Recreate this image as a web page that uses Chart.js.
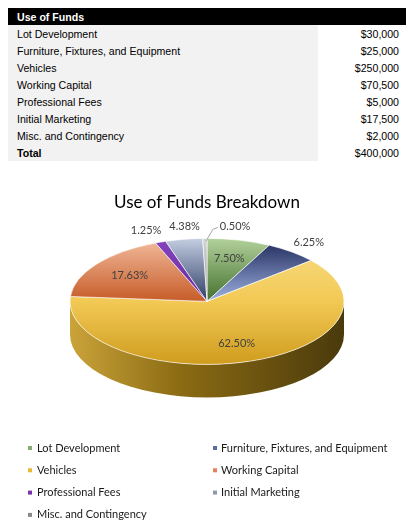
<!DOCTYPE html>
<html>
<head>
<meta charset="utf-8">
<script src="https://cdn.jsdelivr.net/npm/chart.js@4.4.0/dist/chart.umd.min.js"></script>
<style>
  body { margin: 0; background: #fff; width: 418px; height: 524px; overflow: hidden; position: relative; font-family: "Liberation Sans", Arial, sans-serif; }
  #funds { position: absolute; left: 8px; top: 8px; width: 398px; border-collapse: collapse; font-size: 10.6px; color: #000; }
  #funds th { background: #000; color: #fff; text-align: left; font-weight: bold; height: 17px; padding: 0 0 0 9px; }
  #funds td { height: 17px; padding: 0; }
  #funds td.name { background: #f2f2f2; padding-left: 9px; width: 301px; }
  #funds td.amt { text-align: right; padding-right: 7px; }
  #funds tr.total td { font-weight: bold; }
  #funds tr.total td.amt { font-weight: normal; }
  #chartBox { position: absolute; left: 0; top: 172px; width: 418px; height: 352px; }
</style>
</head>
<body>
<table id="funds"></table>
<div id="chartBox"><canvas id="pie"></canvas></div>
<script>
// Datos
var tableTitle = 'Use of Funds';
var chartTitle = 'Use of Funds Breakdown';
var totalLabel = 'Total';
var categories = ['Lot Development', 'Furniture, Fixtures, and Equipment', 'Vehicles', 'Working Capital',
                  'Professional Fees', 'Initial Marketing', 'Misc. and Contingency'];
var amounts = [30000, 25000, 250000, 70500, 5000, 17500, 2000];

// Estilos
var topColors = [
  ['#b2d19b', '#44702f', '#44702f'],
  ['#1b2656', '#9db1e2', '#9db1e2'],
  ['#f8dd84', '#f2c955', '#cf9c1e'],
  ['#f3bc9e', '#c65c28', '#c65c28'],
  ['#8444bc', '#6a2a9e', '#6a2a9e'],
  ['#c4cee2', '#2c3c66', '#2c3c66'],
  ['#d6d6d6', '#8c8c8c', '#8c8c8c']
];
var sideColors = [
  ['#6f9a58', '#3f6a2c', '#26421a'],
  ['#4a5e9a', '#23306a', '#141c40'],
  ['#caa33a', '#8b6b13', '#4a3a0c'],
  ['#d27a4c', '#9a4418', '#5a260c'],
  ['#7a3cb0', '#52207c', '#321048'],
  ['#8a96b4', '#4a5878', '#2a3448'],
  ['#a8a8a8', '#707070', '#404040']
];
var legendColors = ['#8aab76', '#5a6ea6', '#e9b934', '#e2825a', '#7a32b0', '#8d99b3', '#8a8a8a'];
var PIE_R = 137;
var TILT = 0.46;
var DEPTH = 33;

document.addEventListener('DOMContentLoaded', function() {
  buildTable();
  drawPie();
});

function money(v) {
  return '$' + v.toLocaleString('en-US');
}

// Tabla
function buildTable() {
  var t = document.getElementById('funds');
  var html = '<tr><th colspan="2">' + tableTitle + '</th></tr>';
  var total = 0;
  for (var i = 0; i < categories.length; i++) {
    total += amounts[i];
    html += '<tr><td class="name">' + categories[i] + '</td><td class="amt">' + money(amounts[i]) + '</td></tr>';
  }
  html += '<tr class="total"><td class="name">' + totalLabel + '</td><td class="amt">' + money(total) + '</td></tr>';
  t.innerHTML = html;
}

function sliceGradient(c) {
  var i = c.dataIndex;
  var area = c.chart.chartArea;
  if (!area || i === undefined) return topColors[i || 0][1];
  var cy = (area.top + area.bottom) / 2;
  var g = c.chart.ctx.createLinearGradient(0, cy - PIE_R, 0, cy + PIE_R);
  g.addColorStop(0, topColors[i][0]);
  g.addColorStop(0.5, topColors[i][1]);
  g.addColorStop(1, topColors[i][2]);
  return g;
}

var pie3d = {
  id: 'pie3d',
  beforeDatasetsDraw: function(chart) {
    var ctx = chart.ctx;
    var arcs = chart.getDatasetMeta(0).data;
    var cx = arcs[0].x, cy = arcs[0].y, r = arcs[0].outerRadius, ry = r * TILT;
    // paredes laterales (solo la mitad delantera)
    arcs.forEach(function(a, i) {
      var s = Math.max(a.startAngle, 0), e = Math.min(a.endAngle, Math.PI);
      if (s >= e) return;
      var g = ctx.createLinearGradient(cx - r, 0, cx + r, 0);
      g.addColorStop(0, sideColors[i][0]);
      g.addColorStop(0.4, sideColors[i][1]);
      g.addColorStop(1, sideColors[i][2]);
      ctx.beginPath();
      ctx.ellipse(cx, cy, r, ry, 0, s, e);
      ctx.lineTo(cx + r * Math.cos(e), cy + ry * Math.sin(e) + DEPTH);
      ctx.ellipse(cx, cy + DEPTH, r, ry, 0, e, s, true);
      ctx.closePath();
      ctx.fillStyle = g;
      ctx.fill();
    });
    ctx.save();
    ctx.translate(cx, cy);
    ctx.scale(1, TILT);
    ctx.translate(-cx, -cy);
  },
  afterDatasetsDraw: function(chart) {
    var ctx = chart.ctx;
    ctx.restore();
    var arcs = chart.getDatasetMeta(0).data;
    var total = amounts.reduce(function(a, b) { return a + b; }, 0);
    ctx.save();
    ctx.font = '11px Lato';
    ctx.fillStyle = '#404040';
    ctx.textBaseline = 'middle';
    var outside = [];
    arcs.forEach(function(a, i) {
      var pct = Math.round(amounts[i] * 10000 / total) / 100;
      var txt = pct.toFixed(2) + '%';
      var mid = (a.startAngle + a.endAngle) / 2;
      var cos = Math.cos(mid), sin = Math.sin(mid);
      if (pct < 1) {
        // etiqueta con línea guía
        var px = a.x + a.outerRadius * cos, py = a.y + a.outerRadius * TILT * sin;
        ctx.strokeStyle = '#a6a6a6';
        ctx.lineWidth = 1;
        ctx.beginPath();
        ctx.moveTo(px + 1, py + 3);
        ctx.lineTo(px + 8, py - 9);
        ctx.lineTo(px + 13, py - 11);
        ctx.stroke();
        ctx.textAlign = 'left';
        ctx.fillText(txt, px + 15, py - 12);
        return;
      }
      var f = pct >= 7 ? 0.7 : 1.2;
      var lx = a.x + f * a.outerRadius * cos, ly = a.y + f * a.outerRadius * TILT * sin;
      if (pct >= 7) {
        ctx.textAlign = 'center';
        ctx.fillText(txt, lx, ly);
      } else {
        outside.push({ txt: txt, x: lx, y: ly, w: ctx.measureText(txt).width });
      }
    });
    // separar etiquetas exteriores que se solapan
    outside.sort(function(p, q) { return p.x - q.x; });
    for (var k = 1; k < outside.length; k++) {
      var p = outside[k - 1], q = outside[k];
      var need = (p.w + q.w) / 2 + 8 - (q.x - p.x);
      if (need > 0 && Math.abs(p.y - q.y) < 14) {
        p.x -= need / 2;
        q.x += need / 2;
      }
    }
    ctx.textAlign = 'center';
    outside.forEach(function(o) { ctx.fillText(o.txt, o.x, o.y); });
    ctx.restore();
  }
};

var legendGrid = {
  id: 'legendGrid',
  afterDraw: function(chart) {
    var ctx = chart.ctx;
    var colX = [28, 213], top = 276, rowH = 22.3;
    ctx.save();
    ctx.font = '11px Lato';
    ctx.textBaseline = 'middle';
    chart.data.labels.forEach(function(lbl, i) {
      var x = colX[i % 2], y = top + Math.floor(i / 2) * rowH;
      ctx.fillStyle = legendColors[i];
      ctx.fillRect(x, y - 2, 4, 4);
      ctx.fillStyle = '#1a1a1a';
      ctx.fillText(lbl, x + (i % 2 ? 8 : 9), y);
    });
    ctx.restore();
  }
};

function drawPie() {
  var ctx = document.getElementById('pie').getContext('2d');
  var chart = new Chart(ctx, {
    type: 'pie',
    data: {
      labels: categories,
      datasets: [{
        data: amounts,
        backgroundColor: sliceGradient,
        borderColor: 'rgba(255,255,255,0.85)',
        borderWidth: 1,
        clip: false
      }]
    },
    options: {
      responsive: true,
      maintainAspectRatio: false,
      animation: false,
      events: [],
      radius: PIE_R,
      layout: { padding: { top: 0, bottom: 143.6, left: 0, right: 4 } },
      plugins: {
        legend: { display: false },
        tooltip: { enabled: false },
        title: {
          display: true,
          text: chartTitle,
          color: '#000',
          font: { family: 'Lato', size: 17, weight: 'normal' },
          padding: { top: 20, bottom: 10 }
        }
      }
    },
    plugins: [pie3d, legendGrid]
  });
}
</script>
</body>
</html>
